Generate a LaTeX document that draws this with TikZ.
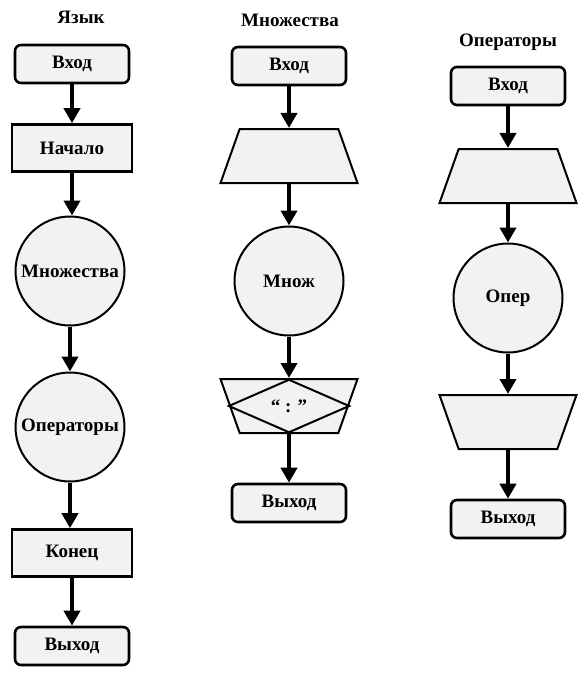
\documentclass[tikz,border=0pt]{standalone}
\usepackage{fontspec}
\setmainfont{Liberation Serif}
\usetikzlibrary{shapes.geometric, arrows.meta}
\definecolor{boxfill}{RGB}{242, 242, 242}

\tikzset{
  base/.style={draw=black, fill=boxfill, line width=2.6pt, font=\fontsize{19}{21}\selectfont\bfseries, inner sep=0pt},
  term/.style={base, rounded corners=6pt, minimum width=114pt, minimum height=38pt},
  proc/.style={base, minimum width=120pt, minimum height=47pt},
  conn/.style={base, circle, line width=2pt, minimum size=109pt},
  trapup/.style={base, line width=2pt, inner sep=3pt, trapezium, trapezium stretches=true, trapezium left angle=79, trapezium right angle=79, minimum width=137pt, minimum height=54pt},
  trapdown/.style={trapup, shape border rotate=180},
  decide/.style={draw=black, line width=2pt, diamond, minimum width=121pt, minimum height=52pt, inner sep=1pt, font=\fontsize{19}{21}\selectfont\bfseries},
  title/.style={font=\fontsize{19}{21}\selectfont\bfseries},
  flow/.style={line width=4pt, -{Triangle[width=16pt, length=15pt]}}
}

\begin{document}
\begin{tikzpicture}[x=1pt, y=-1pt]
  \useasboundingbox (0,0) rectangle (587,678);

  % column 1
  \node[title] (t1) at (81,17) {Язык};
  \node[term] (in1) at (72,64) {Вход};
  \node[proc] (beg) at (72,148) {Начало};
  \node[conn] (sets) at (70,271) {Множества};
  \node[conn] (ops) at (70,427) {Операторы};
  \node[proc] (fin) at (72,553) {Конец};
  \node[term] (out1) at (72,646) {Выход};
  \draw[flow] (in1) -- (in1 |- beg.north);
  \draw[flow] (beg) -- (beg |- sets.north);
  \draw[flow] (sets) -- (ops);
  \draw[flow] (ops) -- (ops |- fin.north);
  \draw[flow] (fin) -- (out1);

  % column 2
  \node[title] (t2) at (290,20) {Множества};
  \node[term] (in2) at (289,66) {Вход};
  \node[trapup] (tr2) at (289,156) {};
  \node[conn] (mn) at (289,281) {Множ};
  \node[trapdown] (tr3) at (289,406) {};
  \node[decide] (colon) at (289,406) {“ : ”};
  \node[term] (out2) at (289,503) {Выход};
  \draw[flow] (in2) -- (tr2);
  \draw[flow] (tr2) -- (mn);
  \draw[flow] (mn) -- (tr3);
  \draw[flow] (colon.south) -- (out2);

  % column 3
  \node[title] (t3) at (508,42) {Операторы};
  \node[term] (in3) at (508,86) {Вход};
  \node[trapup] (tr4) at (508,176) {};
  \node[conn] (op) at (508,298) {Опер};
  \node[trapdown] (tr5) at (508,422) {};
  \node[term] (out3) at (508,519) {Выход};
  \draw[flow] (in3) -- (tr4);
  \draw[flow] (tr4) -- (op);
  \draw[flow] (op) -- (tr5);
  \draw[flow] (tr5) -- (out3);
\end{tikzpicture}
\end{document}
